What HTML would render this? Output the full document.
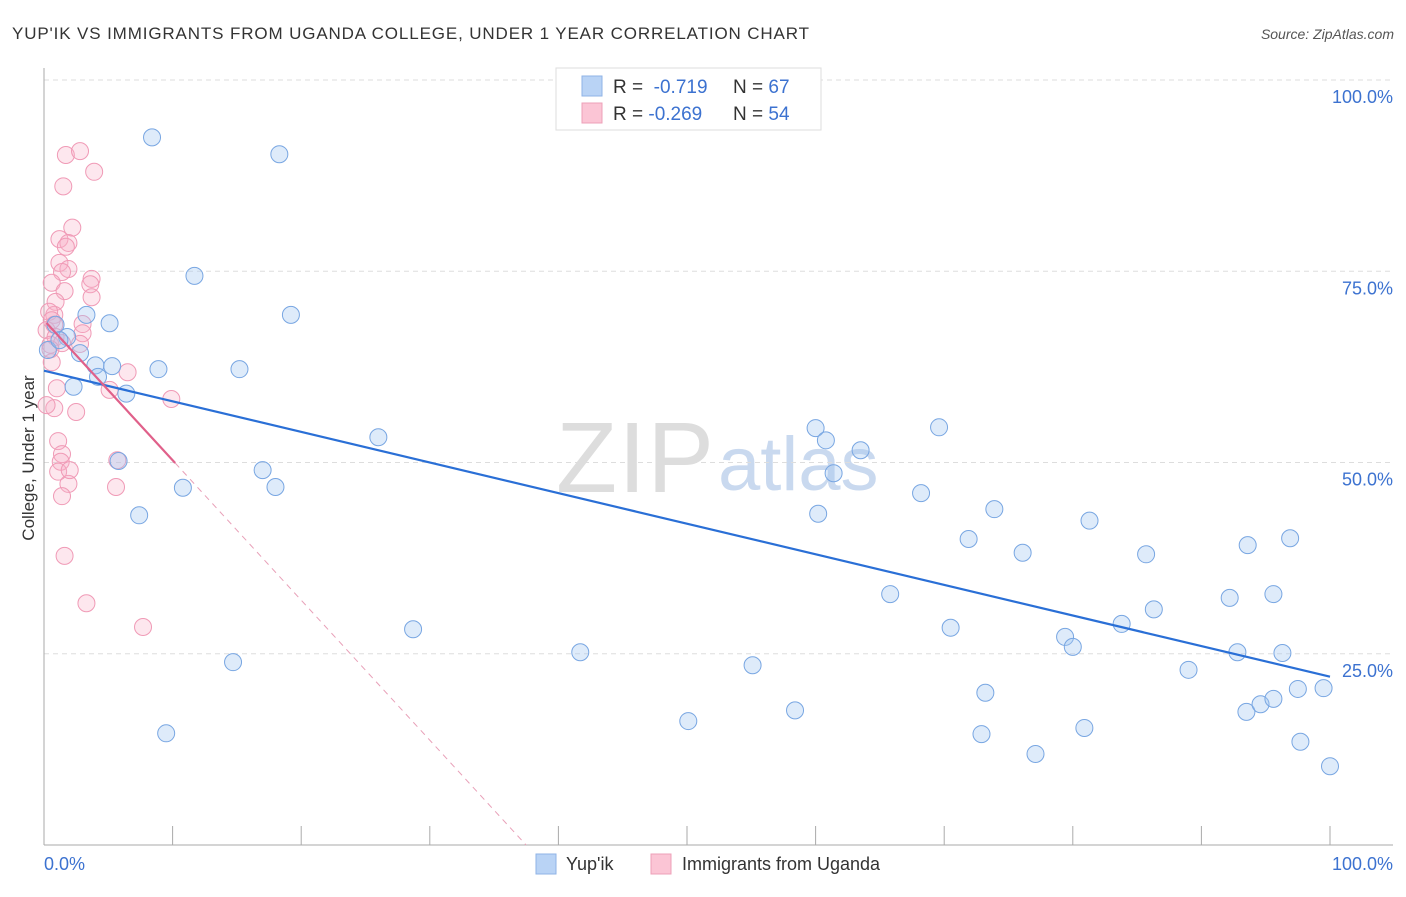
<!DOCTYPE html>
<html><head><meta charset="utf-8"><style>
body{margin:0;background:#fff;font-family:"Liberation Sans",sans-serif}
svg text{font-family:"Liberation Sans",sans-serif}
</style></head><body>
<svg id="c" width="1406" height="892" xmlns="http://www.w3.org/2000/svg">
<text x="12" y="39" font-size="17" fill="#333" textLength="797">YUP'IK VS IMMIGRANTS FROM UGANDA COLLEGE, UNDER 1 YEAR CORRELATION CHART</text>
<text x="1394" y="39" font-size="14" fill="#555" font-style="italic" text-anchor="end">Source: ZipAtlas.com</text>
<text x="714" y="492" font-size="100" fill="#ddd" text-anchor="end" textLength="158" font-family="Liberation Serif">ZIP</text>
<text x="718" y="490" font-size="76" fill="#c9d9ef">atlas</text>
<text transform="translate(34,458) rotate(-90)" font-size="17" fill="#333" text-anchor="middle">College, Under 1 year</text>
<g id="grid"></g><g id="pts"></g><g id="lines"></g>
<g>
<rect x="556" y="68" width="265" height="62" fill="#fff" stroke="#ddd"/>
<rect x="582" y="76" width="20" height="20" fill="#b9d3f5" stroke="#8fb3e6"/>
<rect x="582" y="103" width="20" height="20" fill="#fbc5d5" stroke="#eea0b8"/>
<text x="613" y="93" font-size="19" fill="#333">R = <tspan fill="#3c72d0">&#160;-0.719</tspan><tspan x="733">N = </tspan><tspan fill="#3c72d0">67</tspan></text>
<text x="613" y="120" font-size="19" fill="#333">R = <tspan fill="#3c72d0">-0.269</tspan><tspan x="733">N = </tspan><tspan fill="#3c72d0">54</tspan></text>
</g>
<g>
<rect x="536" y="854" width="20" height="20" fill="#b9d3f5" stroke="#8fb3e6"/>
<text x="566" y="870" font-size="18" fill="#333">Yup'ik</text>
<rect x="651" y="854" width="20" height="20" fill="#fbc5d5" stroke="#eea0b8"/>
<text x="682" y="870" font-size="18" fill="#333">Immigrants from Uganda</text>
</g>
</svg>
<script>
const blueX=[8.4,18.3,11.7,19.2,5.1,3.3,0.9,1.8,2.8,4.0,5.3,4.2,2.3,6.4,8.9,15.2,5.8,10.8,17.0,18.0,7.4,26.0,14.7,9.5,28.7,41.7,50.1,55.1,58.4,60.0,60.8,63.5,61.4,60.2,69.6,68.2,65.8,70.5,71.9,73.9,73.2,72.9,76.1,77.1,81.3,79.4,80.0,80.9,85.7,83.8,86.3,89.0,92.2,93.6,96.9,95.6,92.8,96.3,93.5,94.6,95.6,97.5,99.5,97.7,100,0.3,1.2];
const blueY=[92.5,90.3,74.4,69.3,68.2,69.3,68.0,66.4,64.3,62.7,62.6,61.2,59.9,59.0,62.2,62.2,50.2,46.7,49.0,46.8,43.1,53.3,23.9,14.6,28.2,25.2,16.2,23.5,17.6,54.5,52.9,51.6,48.6,43.3,54.6,46.0,32.8,28.4,40.0,43.9,19.9,14.5,38.2,11.9,42.4,27.2,25.9,15.3,38.0,28.9,30.8,22.9,32.3,39.2,40.1,32.8,25.2,25.1,17.4,18.4,19.1,20.4,20.5,13.5,10.3,64.7,66.0];
const pinkX=[1.7,2.8,3.9,1.5,2.2,1.2,1.9,1.7,1.2,1.9,1.4,3.7,3.6,3.7,0.6,1.6,0.9,0.8,0.4,0.6,0.2,0.8,0.9,0.5,1.4,3.0,3.0,0.6,1.0,5.1,6.5,0.8,2.5,1.1,1.4,0.2,1.3,1.9,1.4,5.7,5.6,1.6,3.3,7.7,9.9,0.5,1.1,2.8,2.0];
const pinkY=[90.2,90.7,88.0,86.1,80.7,79.2,78.7,78.2,76.1,75.3,74.9,74.0,73.3,71.6,73.5,72.4,71.0,69.3,69.7,68.6,67.3,68.0,66.4,65.4,65.6,68.1,66.9,63.1,59.7,59.5,61.8,57.1,56.6,52.8,51.1,57.5,50.1,47.2,45.6,50.3,46.8,37.8,31.6,28.5,58.3,64.8,48.8,65.5,49.0];
const yTicks=[25,50,75,100];
const yTickLabels=["25.0%","50.0%","75.0%","100.0%"];
const xTicks=[0,10,20,30,40,50,60,70,80,90,100];
const blueTrend=[62.0,22.0];
const pinkTrend=[68.6,-1.83];
const pinkSolidEnd=10.2;
const X=v=>44+v*12.86, Y=v=>845-v*7.65;
const NS="http://www.w3.org/2000/svg";
function mk(t,a,p){const e=document.createElementNS(NS,t);for(const k in a)e.setAttribute(k,a[k]);p.appendChild(e);return e;}
const g=document.getElementById('grid'),pg=document.getElementById('pts'),lg=document.getElementById('lines');
yTicks.forEach((v,i)=>{
 const l=mk('line',{x1:44,x2:1393,y1:Y(v),y2:Y(v),stroke:'#ddd','stroke-dasharray':'5,4'},g);
 
 
 const t=mk('text',{x:1393,y:Y(v)+23,'font-size':18,fill:'#3c72d0','text-anchor':'end'},g);
 t.textContent=yTickLabels[i];
 
 
});
const ax=mk('line',{x1:44,x2:44,y1:68,y2:845,stroke:'#aaa'},g);


const bx=mk('line',{x1:44,x2:1393,y1:845,y2:845,stroke:'#aaa'},g);


xTicks.forEach(v=>{
 const l=mk('line',{x1:X(v),x2:X(v),y1:826,y2:845,stroke:'#aaa'},g);
 
 
});
const t0=mk('text',{x:44,y:870,'font-size':18,fill:'#3c72d0'},g);t0.textContent='0.0%';


const t1=mk('text',{x:1393,y:870,'font-size':18,fill:'#3c72d0','text-anchor':'end'},g);t1.textContent='100.0%';


pinkX.forEach((x,i)=>{
 const c=mk('circle',{cx:X(x),cy:Y(pinkY[i]),r:8.5,fill:'rgba(248,175,198,0.3)',stroke:'#f09ab6','stroke-width':1},pg);
 
 
});
blueX.forEach((x,i)=>{
 const c=mk('circle',{cx:X(x),cy:Y(blueY[i]),r:8.5,fill:'rgba(160,198,242,0.35)',stroke:'#78a6e2','stroke-width':1},pg);
 
 
});
const bl=mk('line',{x1:X(0),y1:Y(blueTrend[0]),x2:X(100),y2:Y(blueTrend[1]),stroke:'#2a6fd6','stroke-width':2.2},lg);


const pf=x=>pinkTrend[0]+pinkTrend[1]*x;
const pl=mk('line',{x1:X(0.2),y1:Y(pf(0.2)),x2:X(pinkSolidEnd),y2:Y(pf(pinkSolidEnd)),stroke:'#e0608a','stroke-width':2.2},lg);


const x0=-pinkTrend[0]/pinkTrend[1];
const pd=mk('line',{x1:X(pinkSolidEnd),y1:Y(pf(pinkSolidEnd)),x2:X(x0),y2:Y(0),stroke:'#e8a0b8','stroke-width':1,'stroke-dasharray':'6,5'},lg);


</script>
</body></html>
